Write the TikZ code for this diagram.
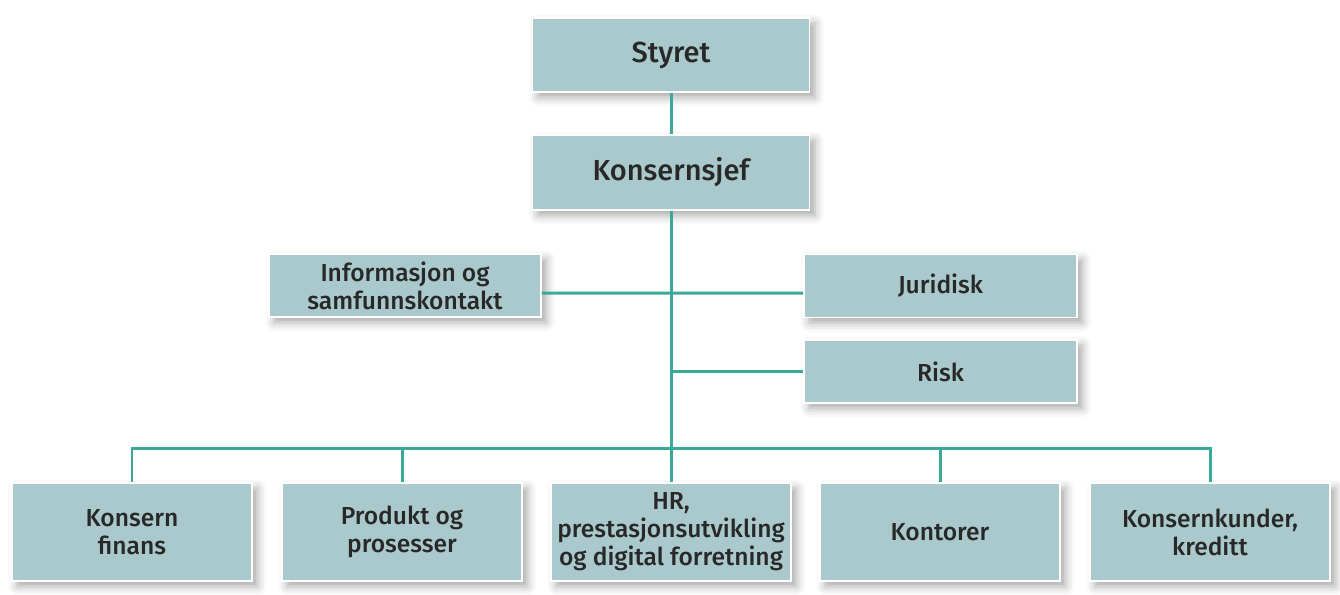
\documentclass[tikz,border=0pt]{standalone}
\usepackage{fontspec}
\setmainfont{Fira Sans}[UprightFont=* Medium]
\usetikzlibrary{shadows.blur}
\definecolor{boxfill}{RGB}{170,201,204}
\definecolor{linkteal}{RGB}{58,170,150}
\definecolor{boxtext}{RGB}{40,40,40}

\begin{document}
\begin{tikzpicture}[
        orgbox/.style={draw=white, line width=1pt, fill=boxfill, text=boxtext,
            align=center, inner sep=0pt, font=\fontsize{14}{16}\selectfont,
            blur shadow={shadow xshift=3pt, shadow yshift=-3pt, shadow blur radius=5pt, shadow opacity=35}},
        topbox/.style={orgbox, minimum width=5.54cm, font=\fontsize{16.5}{18}\selectfont},
        sidebox/.style={orgbox, minimum width=5.46cm, minimum height=1.26cm},
        unitbox/.style={orgbox, minimum width=4.8cm, minimum height=1.96cm},
        link/.style={draw=linkteal, line width=1.7pt}
    ]
    \useasboundingbox (0,0) rectangle (26.8,-11.88);

    % top of the chart
    \node[topbox, minimum height=1.48cm] (styret) at (13.42,-1.1) {Styret};
    \node[topbox, minimum height=1.5cm] (sjef) at (13.42,-3.45) {Konsernsjef};

    % staff functions
    \node[sidebox, minimum width=5.44cm] (info) at (8.1,-5.71) {Informasjon og\\samfunnskontakt};
    \node[sidebox] (jur) at (18.81,-5.72) {Juridisk};
    \node[sidebox] (risk) at (18.81,-7.43) {Risk};

    % business units
    \foreach \name/\x/\txt in {fin/2.64/{Konsern\\finans}, prod/8.04/{Produkt og\\prosesser},
            hr/13.42/{HR,\\prestasjonsutvikling\\og digital forretning}, kont/18.8/{Kontorer},
            kunde/24.2/{Konsernkunder,\\kreditt}} {
        \node[unitbox] (\name) at (\x,-10.64) {\txt};
    }

    % connectors
    \coordinate (bar) at (13.42,-8.96);
    \draw[link] (styret) -- (sjef);
    \draw[link] (sjef) -- (bar);
    \draw[link] ([yshift=-0.15cm]info.east) -- ([yshift=-0.14cm]jur.west);
    \draw[link] (risk.west) -- (risk.west -| bar);
    \foreach \name in {fin, prod, hr, kont, kunde} {
        \draw[link] (\name.north) |- (bar);
    }
\end{tikzpicture}
\end{document}
